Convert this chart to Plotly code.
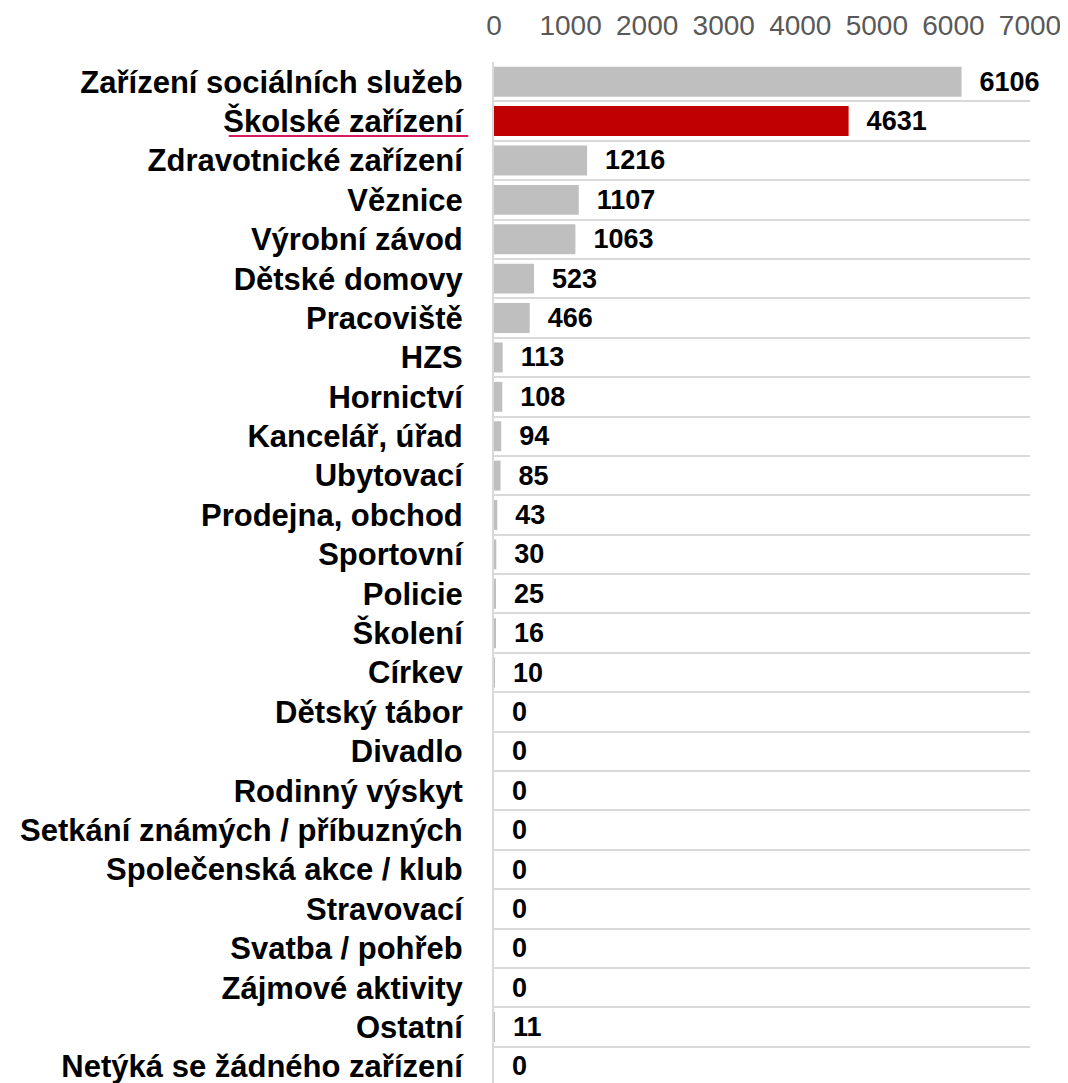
import plotly.graph_objects as go

categories = [
    "Zařízení sociálních služeb", "Školské zařízení", "Zdravotnické zařízení",
    "Věznice", "Výrobní závod", "Dětské domovy", "Pracoviště", "HZS",
    "Hornictví", "Kancelář, úřad", "Ubytovací", "Prodejna, obchod",
    "Sportovní", "Policie", "Školení", "Církev", "Dětský tábor", "Divadlo",
    "Rodinný výskyt", "Setkání známých / příbuzných",
    "Společenská akce / klub", "Stravovací", "Svatba / pohřeb",
    "Zájmové aktivity", "Ostatní", "Netýká se žádného zařízení",
]
values = [6106, 4631, 1216, 1107, 1063, 523, 466, 113, 108, 94, 85, 43, 30,
          25, 16, 10, 0, 0, 0, 0, 0, 0, 0, 0, 11, 0]
highlight = "Školské zařízení"
x_ticks = [0, 1000, 2000, 3000, 4000, 5000, 6000, 7000]

GRAY = "#bfbfbf"
RED = "#c00000"
colors = [RED if c == highlight else GRAY for c in categories]
labels = ["\u00a0\u00a0" + str(v) for v in values]

fig = go.Figure(go.Bar(
    x=values, y=categories, orientation="h",
    marker=dict(color=colors, line=dict(width=0)),
    text=labels, textposition="outside", constraintext="none",
    cliponaxis=False,
    textfont=dict(family="Liberation Sans", size=27, color="black", weight="bold"),
    hoverinfo="skip",
))

fig.update_layout(
    width=1068, height=1083,
    margin=dict(l=486, r=46, t=54, b=8, autoexpand=False),
    paper_bgcolor="white", plot_bgcolor="white",
    bargap=0.24, showlegend=False,
    font=dict(family="Liberation Sans"),
    xaxis=dict(
        side="top", range=[0, 7000], tickvals=x_ticks,
        showgrid=False, zeroline=False, showline=False, ticks="",
        tickfont=dict(family="Liberation Sans", size=28, color="#595959"),
        ticklabelstandoff=20, automargin=False,
    ),
    yaxis=dict(
        type="category", range=[25.42, -0.5], tickson="boundaries",
        showgrid=True, gridcolor="#d9d9d9", gridwidth=2,
        showline=True, linecolor="#d9d9d9", linewidth=2,
        ticks="", ticklabelstandoff=23, automargin=False,
        tickfont=dict(family="Liberation Sans", size=31, color="black", weight="bold"),
    ),
    shapes=[dict(
        type="line", xref="paper", yref="paper",
        x0=-0.495, x1=-0.048, y0=0.9275, y1=0.9275,
        line=dict(color="#d81b60", width=2),
    )],
)

fig.write_html("out.html")
